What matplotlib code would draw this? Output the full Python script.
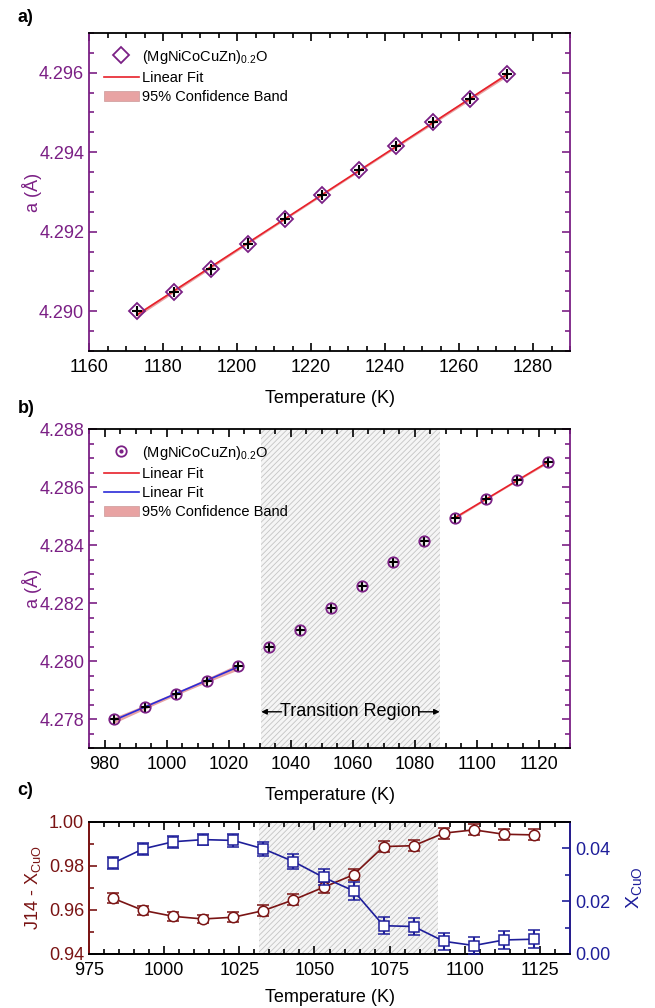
import numpy as np
import matplotlib
matplotlib.use("Agg")
import matplotlib.pyplot as plt
from matplotlib.ticker import MultipleLocator, FormatStrFormatter
from matplotlib.lines import Line2D
from matplotlib.patches import Patch

plt.rcParams['font.family'] = ['Liberation Sans', 'DejaVu Sans']
plt.rcParams['mathtext.fontset'] = 'custom'
plt.rcParams['mathtext.rm'] = 'Liberation Sans'
plt.rcParams['mathtext.it'] = 'Liberation Sans:italic'
plt.rcParams['hatch.linewidth'] = 0.6

# ---- data ----
# panel a
temp_a = [1173, 1183, 1193, 1203, 1213, 1223, 1233, 1243, 1253, 1263, 1273]
lat_a = [4.29000, 4.29049, 4.29105, 4.29170, 4.29233, 4.29293, 4.29355,
         4.29415, 4.29475, 4.29535, 4.29597]
# panel b
temp_b = [983, 993, 1003, 1013, 1023, 1033, 1043, 1053, 1063, 1073, 1083,
          1093, 1103, 1113, 1123]
lat_b = [4.27799, 4.27840, 4.27885, 4.27930, 4.27984, 4.28049, 4.28107,
         4.28182, 4.28259, 4.28340, 4.28415, 4.28494, 4.28559, 4.28624,
         4.28686]
# panel c
temp_c = [983, 993, 1003, 1013, 1023, 1033, 1043, 1053, 1063, 1073, 1083,
          1093, 1103, 1113, 1123]
j14 = [0.9653, 0.9598, 0.9571, 0.9559, 0.9567, 0.9597, 0.9646, 0.9703,
       0.9760, 0.9888, 0.9892, 0.9949, 0.9964, 0.9944, 0.9941]
j14_err = [0.0022, 0.0020, 0.0020, 0.0020, 0.0022, 0.0024, 0.0025, 0.0024,
           0.0025, 0.0025, 0.0025, 0.0025, 0.0025, 0.0025, 0.0025]
xcuo = [0.0344, 0.0398, 0.0425, 0.0433, 0.0430, 0.0398, 0.0350, 0.0290,
        0.0239, 0.0107, 0.0104, 0.0048, 0.0032, 0.0053, 0.0056]
xcuo_err = [0.0022, 0.0022, 0.0022, 0.0022, 0.0024, 0.0026, 0.0030, 0.0030,
            0.0033, 0.0033, 0.0033, 0.0033, 0.0033, 0.0033, 0.0033]

transition_b = (1030.5, 1088)
transition_c = (1031.5, 1091)

purple = '#7b2085'
maroon = '#7a1414'
navy = '#1e1e9a'
band = '#e8a3a3'


def fit_band(x, y, xs):
    x = np.asarray(x, float)
    y = np.asarray(y, float)
    p = np.polyfit(x, y, 1)
    yhat = np.polyval(p, x)
    n = len(x)
    s = np.sqrt(np.sum((y - yhat) ** 2) / (n - 2))
    se = s * np.sqrt(1 / n + (xs - x.mean()) ** 2 / np.sum((x - x.mean()) ** 2))
    # two-sided 95% t values by degrees of freedom
    tval = {2: 4.30, 3: 3.18, 4: 2.78, 5: 2.57, 6: 2.45, 7: 2.36,
            8: 2.31, 9: 2.26}.get(n - 2, 2.2)
    yf = np.polyval(p, xs)
    return yf, yf - tval * se, yf + tval * se


def style_ax(ax, col, xmaj, xmin, ymaj, ymin):
    ax.xaxis.set_major_locator(MultipleLocator(xmaj))
    ax.xaxis.set_minor_locator(MultipleLocator(xmin))
    ax.yaxis.set_major_locator(MultipleLocator(ymaj))
    ax.yaxis.set_minor_locator(MultipleLocator(ymin))
    ax.tick_params(which='both', direction='in', top=True, right=True,
                   labelsize=13, width=1.2)
    ax.tick_params(axis='x', pad=6)
    ax.tick_params(which='major', length=6)
    ax.tick_params(which='minor', length=3.5)
    ax.tick_params(axis='y', which='both', colors=col, labelcolor=col)
    for sp in ax.spines.values():
        sp.set_linewidth(1.3)
    ax.spines['left'].set_color(col)
    ax.spines['right'].set_color(col)


fig = plt.figure(figsize=(6.55, 10.08), dpi=100)

# ---------- panel a ----------
ax1 = fig.add_axes([0.1359, 0.6518, 0.7344, 0.3155])
xs = np.linspace(temp_a[0], temp_a[-1], 100)
yf, lo, hi = fit_band(temp_a, lat_a, xs)
ax1.fill_between(xs, lo, hi, color=band, lw=0, zorder=1)
ax1.plot(xs, yf, color='#e8202a', lw=1.2, zorder=2)
ax1.errorbar(temp_a, lat_a, xerr=1.4, yerr=0.00013, fmt='none', ecolor='black',
             elinewidth=1.5, zorder=3)
ax1.plot(temp_a, lat_a, 'D', ms=8, mfc='none', mec=purple, mew=1.3, zorder=4)
ax1.set_xlim(1160, 1290)
ax1.set_ylim(4.289, 4.297)
style_ax(ax1, purple, 20, 5, 0.002, 0.0005)
ax1.yaxis.set_major_formatter(FormatStrFormatter('%.3f'))
ax1.set_xlabel('Temperature (K)', fontsize=13, labelpad=10)
ax1.set_ylabel('a (Å)', fontsize=13, color=purple, labelpad=-2)
h_a = [Line2D([], [], ls='none', marker='D', ms=8, mfc='none', mec=purple, mew=1.3),
       Line2D([], [], color='#e8202a', lw=1.2),
       Patch(facecolor=band, edgecolor='#cc9999', lw=0.5)]
ax1.legend(h_a, [r'(MgNiCoCuZn)$_{0.2}$O', 'Linear Fit', '95% Confidence Band'],
           loc='upper left', frameon=False, fontsize=10.5, labelspacing=0.35,
           handlelength=2.4, handletextpad=0.2, borderaxespad=0.6)
fig.text(0.027, 0.983, 'a)', fontsize=13, fontweight='bold', va='center')

# ---------- panel b ----------
ax2 = fig.add_axes([0.1359, 0.2579, 0.7344, 0.3165])
ax2.axvspan(*transition_b, facecolor='#f5f5f5', edgecolor='#c4c4c4',
            hatch='//////', lw=0, zorder=0)
n1 = 5
xs1 = np.linspace(temp_b[0], temp_b[n1 - 1], 50)
yf1, lo1, hi1 = fit_band(temp_b[:n1], lat_b[:n1], xs1)
ax2.fill_between(xs1, lo1, hi1, color=band, lw=0, zorder=1)
ax2.plot(xs1, yf1, color='#2b2bd8', lw=1.2, zorder=2)
n2 = 11
xs2 = np.linspace(temp_b[n2], temp_b[-1], 50)
yf2, lo2, hi2 = fit_band(temp_b[n2:], lat_b[n2:], xs2)
ax2.fill_between(xs2, lo2, hi2, color=band, lw=0, zorder=1)
ax2.plot(xs2, yf2, color='#e8202a', lw=1.2, zorder=2)
ax2.errorbar(temp_b, lat_b, xerr=1.6, yerr=0.00017, fmt='none', ecolor='black',
             elinewidth=1.5, zorder=3)
ax2.plot(temp_b, lat_b, 'o', ms=7.5, mfc='none', mec=purple, mew=1.3, zorder=4)
ax2.set_xlim(975, 1130)
ax2.set_ylim(4.277, 4.288)
style_ax(ax2, purple, 20, 5, 0.002, 0.0005)
ax2.yaxis.set_major_formatter(FormatStrFormatter('%.3f'))
ax2.set_xlabel('Temperature (K)', fontsize=13, labelpad=10)
ax2.set_ylabel('a (Å)', fontsize=13, color=purple, labelpad=-2)
y_tr = 4.27825
ax2.text(1059.3, y_tr, 'Transition Region', fontsize=13, ha='center',
         va='center', zorder=5)
ax2.annotate('', xy=(transition_b[0], y_tr), xytext=(1037.0, y_tr),
             arrowprops=dict(arrowstyle='-|>', color='black', lw=1,
                             mutation_scale=8, shrinkA=0, shrinkB=0))
ax2.annotate('', xy=(transition_b[1], y_tr), xytext=(1081.5, y_tr),
             arrowprops=dict(arrowstyle='-|>', color='black', lw=1,
                             mutation_scale=8, shrinkA=0, shrinkB=0))
h_b = [(Line2D([], [], ls='none', marker='o', ms=7.5, mfc='none', mec=purple, mew=1.3),
        Line2D([], [], ls='none', marker='o', ms=2, color=purple)),
       Line2D([], [], color='#e8202a', lw=1.2),
       Line2D([], [], color='#2b2bd8', lw=1.2),
       Patch(facecolor=band, edgecolor='#cc9999', lw=0.5)]
ax2.legend(h_b, [r'(MgNiCoCuZn)$_{0.2}$O', 'Linear Fit', 'Linear Fit',
                 '95% Confidence Band'],
           loc='upper left', frameon=False, fontsize=10.5, labelspacing=0.35,
           handlelength=2.4, handletextpad=0.2, borderaxespad=0.6)
fig.text(0.027, 0.595, 'b)', fontsize=13, fontweight='bold', va='center')

# ---------- panel c ----------
ax3 = fig.add_axes([0.1359, 0.0536, 0.7344, 0.1310])
ax3.axvspan(*transition_c, facecolor='#f5f5f5', edgecolor='#c4c4c4',
            hatch='//////', lw=0, zorder=0)
ax3.errorbar(temp_c, j14, yerr=j14_err, fmt='-o', color=maroon, mfc='white',
             mec=maroon, ms=7.5, mew=1.1, lw=1.2, elinewidth=1.5, capsize=4,
             capthick=1.3, zorder=3)
ax3.set_xlim(975, 1135)
ax3.set_ylim(0.94, 1.00)
style_ax(ax3, maroon, 25, 5, 0.02, 0.01)
ax3.tick_params(right=False)
ax3.yaxis.set_major_formatter(FormatStrFormatter('%.2f'))
ax3.set_xlabel('Temperature (K)', fontsize=13, labelpad=7)
ax3.set_ylabel(r'J14 - X$_{\mathrm{CuO}}$', fontsize=13, color=maroon, labelpad=4)

ax4 = ax3.twinx()
ax4.errorbar(temp_c, xcuo, yerr=xcuo_err, fmt='-s', color=navy, mfc='white',
             mec=navy, ms=6.5, mew=1.1, lw=1.2, elinewidth=1.5, capsize=4,
             capthick=1.3, zorder=3)
ax4.set_ylim(0.0, 0.05)
ax4.yaxis.set_major_locator(MultipleLocator(0.02))
ax4.yaxis.set_minor_locator(MultipleLocator(0.01))
ax4.yaxis.set_major_formatter(FormatStrFormatter('%.2f'))
ax4.tick_params(which='both', direction='in', labelsize=13, width=1.2,
                colors=navy, labelcolor=navy)
ax4.tick_params(which='major', length=6)
ax4.tick_params(which='minor', length=3.5)
for sp in ax4.spines.values():
    sp.set_linewidth(1.3)
ax4.spines['right'].set_color(navy)
ax4.spines['left'].set_color(maroon)
ax4.set_ylabel(r'X$_{\mathrm{CuO}}$', fontsize=14, color=navy, labelpad=10)
fig.text(0.027, 0.216, 'c)', fontsize=13, fontweight='bold', va='center')

fig.savefig('out.png', dpi=100)
